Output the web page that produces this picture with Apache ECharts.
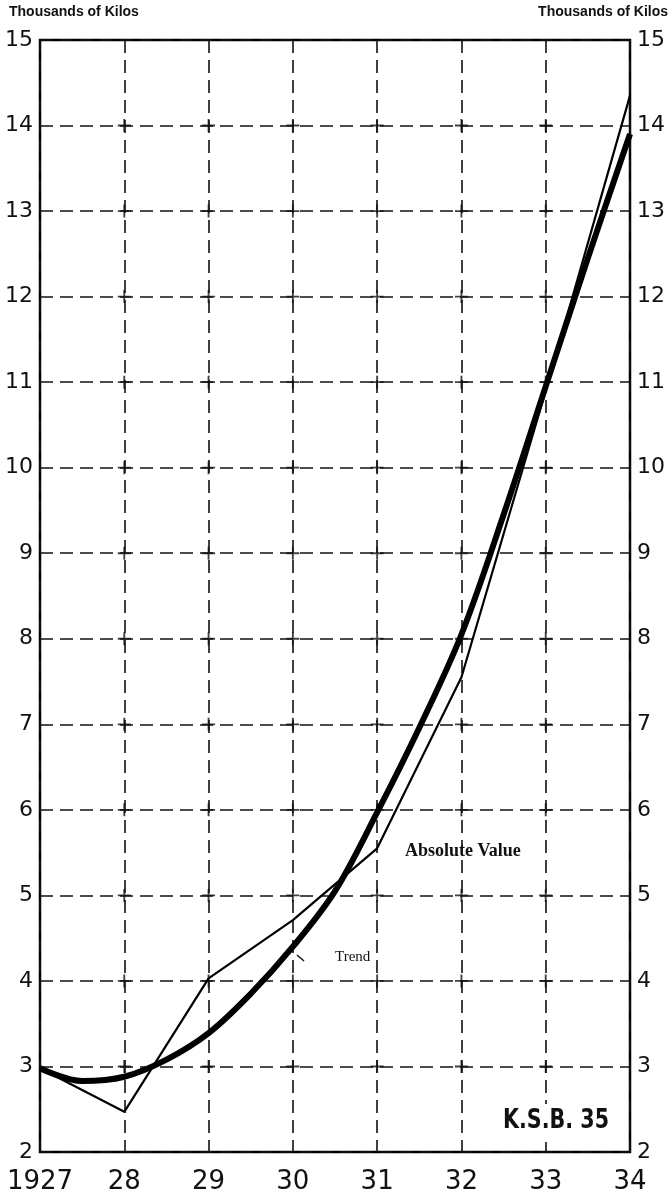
<!DOCTYPE html>
<html>
<head>
<meta charset="utf-8">
<script src="https://cdn.jsdelivr.net/npm/echarts@6/dist/echarts.min.js"></script>
<style>html,body{margin:0;padding:0;background:#fff;}#c{width:671px;height:1204px;}</style>
</head>
<body>
<div id="c"></div>
<script>
// ---- data ----
var years = [1927, 1928, 1929, 1930, 1931, 1932, 1933, 1934];
var yearLabels = ['1927', '28', '29', '30', '31', '32', '33', '34'];
var absoluteValue = [2.98, 2.47, 4.03, 4.71, 5.55, 7.55, 10.9, 14.35];
var trendX = [1927, 1927.5, 1928, 1928.5, 1929, 1929.5, 1930, 1930.5, 1931, 1931.5, 1932, 1932.5, 1933, 1933.5, 1934];
var trendY = [2.98, 2.83, 2.88, 3.08, 3.39, 3.85, 4.40, 5.05, 5.97, 6.96, 8.05, 9.45, 10.95, 12.45, 13.9];
var yTicks = [2, 3, 4, 5, 6, 7, 8, 9, 10, 11, 12, 13, 14, 15];

var chart = echarts.init(document.getElementById('c'));
var tickFont = {fontFamily: 'DejaVu Sans', fontSize: 22, color: '#111'};

// grid intersections for the "+" marks
var crosses = [];
years.slice(1, -1).forEach(function (x) {
  yTicks.slice(1, -1).forEach(function (y) { crosses.push([x, y]); });
});

chart.setOption({
  animation: false,
  backgroundColor: '#fff',
  grid: {left: 40, right: 41, top: 40, bottom: 52, show: true, borderColor: '#000', borderWidth: 2.5, backgroundColor: 'transparent'},
  xAxis: {
    type: 'value', min: 1927, max: 1934, interval: 1,
    axisLine: {show: false}, axisTick: {show: false},
    axisLabel: {margin: 17, fontFamily: 'DejaVu Sans', fontSize: 26, color: '#111',
      formatter: function (v) { return yearLabels[years.indexOf(v)] || ''; }},
    splitLine: {show: true, lineStyle: {color: '#111', width: 1.6, type: [13, 7]}}
  },
  yAxis: [{
    type: 'value', min: 2, max: 15, interval: 1, position: 'left',
    axisLine: {show: false}, axisTick: {show: false},
    axisLabel: Object.assign({margin: 7}, tickFont),
    splitLine: {show: true, lineStyle: {color: '#111', width: 1.6, type: [13, 7]}}
  }, {
    type: 'value', min: 2, max: 15, interval: 1, position: 'right',
    axisLine: {show: false}, axisTick: {show: false},
    axisLabel: Object.assign({margin: 7}, tickFont),
    splitLine: {show: false}
  }],
  series: [{
    name: 'Crosses', type: 'scatter', silent: true,
    symbol: 'path://M-1,-7L1,-7L1,-1L7,-1L7,1L1,1L1,7L-1,7L-1,1L-7,1L-7,-1L-1,-1Z',
    symbolSize: 13, itemStyle: {color: '#111'},
    data: crosses, z: 1
  }, {
    name: 'Absolute Value', type: 'line', symbol: 'none',
    lineStyle: {color: '#000', width: 2.2},
    data: years.map(function (y, i) { return [y, absoluteValue[i]]; }), z: 3
  }, {
    name: 'Trend', type: 'line', symbol: 'none', smooth: 0.35,
    lineStyle: {color: '#000', width: 6},
    data: trendX.map(function (y, i) { return [y, trendY[i]]; }), z: 4
  }],
  graphic: [
    {type: 'text', left: 9, top: 5, style: {text: 'Thousands of Kilos', font: 'bold 14px "Liberation Sans", Arial', fill: '#111'}},
    {type: 'text', right: 3, top: 5, style: {text: 'Thousands of Kilos', font: 'bold 14px "Liberation Sans", Arial', fill: '#111'}},
    {type: 'text', left: 405, top: 842, style: {text: 'Absolute Value', font: 'bold 18px "Liberation Serif", serif', fill: '#111'}},
    {type: 'text', left: 335, top: 950, style: {text: 'Trend', font: '15px "Liberation Serif", serif', fill: '#111'}},
    {type: 'line', shape: {x1: 297, y1: 955, x2: 304, y2: 961}, style: {stroke: '#111', lineWidth: 1.5}},
    {type: 'rect', shape: {x: 498, y: 1104, width: 122, height: 38}, style: {fill: '#fff'}, z: 50},
    {type: 'text', x: 503, y: 1107, scaleX: 0.85, z: 51, style: {text: 'K.S.B. 35', font: 'bold 27px "DejaVu Sans Condensed", "DejaVu Sans", sans-serif', fill: '#111'}}
  ]
});
</script>
</body>
</html>
